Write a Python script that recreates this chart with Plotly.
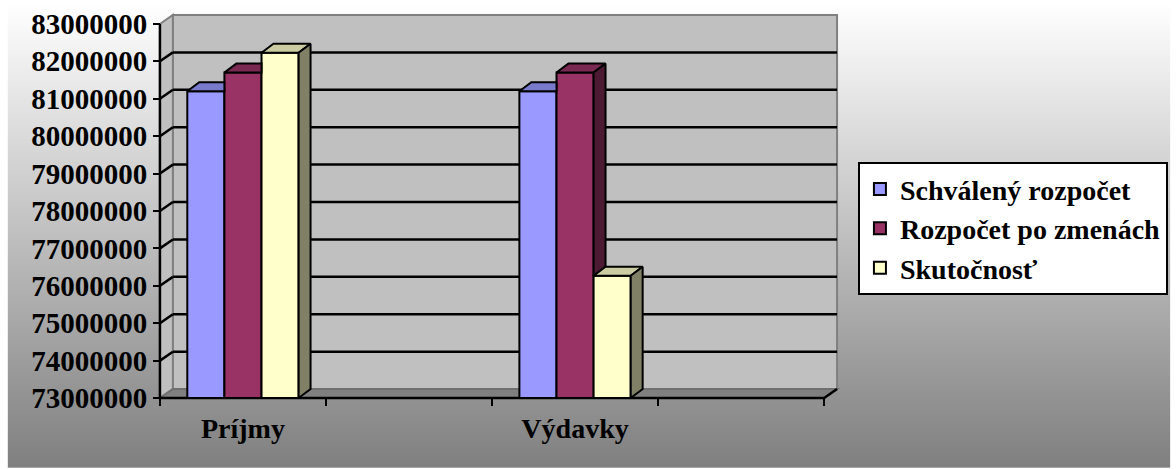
import base64
import struct
import zlib
import plotly.graph_objects as go

# ---------------- data ----------------
categories = ["Príjmy", " ", "Výdavky", "  "]
series_names = ["Schválený rozpočet", "Rozpočet po zmenách", "Skutočnosť"]
schvaleny = [81200000, None, 81200000, None]
po_zmenach = [81700000, None, 81700000, None]
skutocnost = [82230000, None, 76270000, None]
y_tick_values = [73000000, 74000000, 75000000, 76000000, 77000000, 78000000,
                 79000000, 80000000, 81000000, 82000000, 83000000]
y_tick_labels = [str(v) for v in y_tick_values]

# ---------------- styles ----------------
front_colors = ["#9999FF", "#993366", "#FFFFCC"]
top_colors = ["#7A7ACC", "#7A2952", "#CCCCA3"]
side_colors = ["#4D4D80", "#4D1A33", "#808066"]
FONT = "Liberation Serif, Times New Roman, DejaVu Serif, serif"

W, H = 1176, 469
PX_L, PX_R, PX_T, PX_B = 150, 850, 8, 408          # plot area in pixels
FRONT_L, CAT_PX = 160, 167                           # front plane left edge, px per category
Y_TOP_PX, Y_BOT_PX = 22, 398                         # pixel rows of 83M / 73M on the front plane
ymin, ymax = y_tick_values[0], y_tick_values[-1]
ppv = (Y_BOT_PX - Y_TOP_PX) / (ymax - ymin)          # px per unit value

x_range = [-0.5 - (FRONT_L - PX_L) / CAT_PX, -0.5 + (PX_R - FRONT_L) / CAT_PX]
y_range = [ymin - (PX_B - Y_BOT_PX) / ppv, ymax + (Y_TOP_PX - PX_T) / ppv]

wdx, wdy = 13 / CAT_PX, 9 / ppv     # wall depth
bdx, bdy = 12 / CAT_PX, 9 / ppv     # bar depth
n_cat = len(categories)
xl, xr = -0.5, n_cat - 0.5
bar_w = 0.2235
xpos = list(range(n_cat))


def gradient_png(h):
    raw = b""
    for i in range(h):
        g = int(round(255 - (255 - 128) * i / (h - 1)))
        raw += b"\x00" + bytes([g, g, g])

    def chunk(t, d):
        c = struct.pack(">I", len(d)) + t + d
        return c + struct.pack(">I", zlib.crc32(t + d) & 0xFFFFFFFF)

    png = b"\x89PNG\r\n\x1a\n"
    png += chunk(b"IHDR", struct.pack(">IIBBBBB", 1, h, 8, 2, 0, 0, 0))
    png += chunk(b"IDAT", zlib.compress(raw))
    png += chunk(b"IEND", b"")
    return "data:image/png;base64," + base64.b64encode(png).decode()


def poly(pts):
    return "M " + " L ".join(f"{x},{y}" for x, y in pts) + " Z"


shapes = []
# back wall
shapes.append(dict(type="rect", xref="x", yref="y", layer="below",
                   x0=xl + wdx, x1=xr + wdx, y0=ymin + wdy, y1=ymax + wdy,
                   fillcolor="#C0C0C0", line=dict(color="#808080", width=2)))
# left wall
shapes.append(dict(type="path", xref="x", yref="y", layer="below",
                   path=poly([(xl, ymin), (xl, ymax), (xl + wdx, ymax + wdy), (xl + wdx, ymin + wdy)]),
                   fillcolor="#C0C0C0", line=dict(color="#808080", width=2)))
# floor
shapes.append(dict(type="path", xref="x", yref="y", layer="below",
                   path=poly([(xl, ymin), (xr, ymin), (xr + wdx, ymin + wdy), (xl + wdx, ymin + wdy)]),
                   fillcolor="#808080", line=dict(color="#707070", width=2)))
shapes.append(dict(type="path", xref="x", yref="y", layer="below",
                   path=f"M {xl},{ymin} L {xr},{ymin} L {xr + wdx},{ymin + wdy}",
                   line=dict(color="black", width=2.5)))
# gridlines on back wall and left wall
for v in y_tick_values[1:-1]:
    shapes.append(dict(type="line", xref="x", yref="y", layer="below",
                       x0=xl + wdx, x1=xr + wdx, y0=v + wdy, y1=v + wdy,
                       line=dict(color="black", width=2.5)))
    shapes.append(dict(type="line", xref="x", yref="y", layer="below",
                       x0=xl, x1=xl + wdx, y0=v, y1=v + wdy,
                       line=dict(color="black", width=2.5)))
# front vertical axis line
shapes.append(dict(type="line", xref="x", yref="y", layer="below",
                   x0=xl, x1=xl, y0=ymin, y1=ymax, line=dict(color="black", width=2.5)))

fig = go.Figure()
series = [schvaleny, po_zmenach, skutocnost]
offsets = [-1.5 * bar_w + k * bar_w for k in range(3)]

for k, (name, vals) in enumerate(zip(series_names, series)):
    fig.add_trace(go.Bar(
        name=name, x=xpos,
        y=[None if v is None else v - ymin for v in vals], base=ymin,
        width=bar_w, offset=offsets[k],
        marker=dict(color=front_colors[k], line=dict(color="black", width=2)),
        hoverinfo="skip"))

# 3-D top and side faces, computed from the same values
for i in xpos:
    vals = [s[i] for s in series]
    if any(v is None for v in vals):
        continue
    for k, v in enumerate(vals):
        x0 = i + offsets[k]
        x1 = x0 + bar_w
        nxt = vals[k + 1] if k < 2 else None
        if nxt is not None and nxt >= v + bdy:
            top = [(x0, v), (x1, v), (x1, v + bdy), (x0 + bdx, v + bdy), (x0, v)]
        else:
            top = [(x0, v), (x1, v), (x1 + bdx, v + bdy), (x0 + bdx, v + bdy), (x0, v)]
        fig.add_trace(go.Scatter(
            x=[p[0] for p in top], y=[p[1] for p in top], mode="lines", fill="toself",
            fillcolor=top_colors[k], line=dict(color="black", width=2),
            showlegend=False, hoverinfo="skip"))
        lower = nxt if nxt is not None else ymin
        if v > lower:
            side = [(x1, lower), (x1, v), (x1 + bdx, v + bdy), (x1 + bdx, lower + bdy), (x1, lower)]
            fig.add_trace(go.Scatter(
                x=[p[0] for p in side], y=[p[1] for p in side], mode="lines", fill="toself",
                fillcolor=side_colors[k], line=dict(color="black", width=2),
                showlegend=False, hoverinfo="skip"))

# invisible trace to carry the category label axis
fig.add_trace(go.Scatter(x=xpos, y=[ymin] * n_cat, xaxis="x2", mode="markers",
                         marker=dict(opacity=0), showlegend=False, hoverinfo="skip"))

x_font = dict(family=FONT, size=28, color="black", weight="bold")
y_font = dict(family=FONT, size=29, color="black", weight="bold")
legend_font = dict(family=FONT, size=28, color="black", weight="bold")

fig.update_layout(
    width=W, height=H,
    margin=dict(l=PX_L, r=W - PX_R, t=PX_T, b=H - PX_B, pad=0),
    paper_bgcolor="white", plot_bgcolor="rgba(0,0,0,0)",
    font=dict(family=FONT),
    barmode="overlay",
    shapes=shapes,
    images=[dict(source=gradient_png(256), xref="paper", yref="paper",
                 x=(7 - PX_L) / (PX_R - PX_L), y=(PX_B - 0) / (PX_B - PX_T),
                 sizex=(W - 7) / (PX_R - PX_L), sizey=(H - 1) / (PX_B - PX_T),
                 xanchor="left", yanchor="top", sizing="stretch", layer="below")],
    xaxis=dict(type="linear", range=x_range, tickvals=[i - 0.5 for i in range(n_cat + 1)],
               ticktext=[""] * (n_cat + 1), ticks="outside", ticklen=7, tickwidth=2,
               tickcolor="black", showgrid=False, zeroline=False, showline=False,
               anchor="free", position=(PX_B - Y_BOT_PX) / (PX_B - PX_T), fixedrange=True),
    xaxis2=dict(type="linear", range=x_range, overlaying="x", tickvals=xpos, ticktext=categories,
                ticks="", showgrid=False, zeroline=False, showline=False, side="bottom",
                anchor="free", position=(PX_B - Y_BOT_PX) / (PX_B - PX_T),
                ticklabelstandoff=11, tickfont=x_font, fixedrange=True),
    yaxis=dict(range=y_range, tickvals=y_tick_values, ticktext=y_tick_labels,
               ticks="outside", ticklen=7, tickwidth=2, tickcolor="black",
               showgrid=False, zeroline=False, showline=False,
               anchor="free", position=(FRONT_L - PX_L) / (PX_R - PX_L),
               tickfont=y_font, fixedrange=True),
    legend=dict(x=(862 - PX_L) / (PX_R - PX_L), xanchor="left",
                y=(PX_B - 161) / (PX_B - PX_T), yanchor="top",
                bgcolor="white", bordercolor="black", borderwidth=2,
                font=legend_font, traceorder="normal"),
    showlegend=True,
)

fig.write_html("out.html", config={"displayModeBar": False},
               post_script="document.body.style.margin='0';document.body.style.overflow='hidden';")
